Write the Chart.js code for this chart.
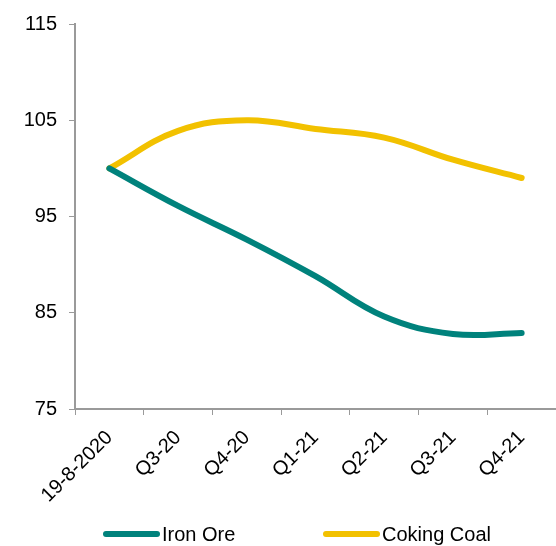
<!DOCTYPE html>
<html>
<head>
<meta charset="utf-8">
<script src="https://cdn.jsdelivr.net/npm/chart.js@4.4.0/dist/chart.umd.min.js"></script>
<style>
  html, body { margin: 0; padding: 0; background: #fff; }
  #wrap { position: relative; width: 556px; height: 546px; }
  #legenda { position: absolute; left: 0; top: 523px; width: 556px; height: 22px;
    font-family: "Liberation Sans", Arial, sans-serif; font-size: 20px; color: #000; }
  .item { position: absolute; top: 0; height: 22px; line-height: 22px; white-space: nowrap; }
  .linha { position: absolute; top: 8px; width: 57px; height: 6px; border-radius: 3px; }
  .texto { position: absolute; top: 0; }
</style>
</head>
<body>
<div id="wrap">
  <canvas id="graficoPrecos"></canvas>
  <div id="legenda"></div>
</div>
<script>
var categorias = ['19-8-2020', 'Q3-20', 'Q4-20', 'Q1-21', 'Q2-21', 'Q3-21', 'Q4-21']
var ironOre = [100, 96.1, 92.6, 88.8, 84.6, 82.8, 82.9]
var cokingCoal = [100, 103.9, 105.0, 104.1, 103.2, 100.9, 99.0]
var yTicks = [75, 85, 95, 105, 115]

var corIron = 'rgb(0, 130, 124)'
var corCoal = 'rgb(242, 193, 0)'
var corEixo = '#9a9a9a'

Chart.defaults.font.family = '"Liberation Sans", Arial, sans-serif'
Chart.defaults.font.size = 20
Chart.defaults.color = '#000'

var ctx = document.getElementById('graficoPrecos')

var grafico = new Chart(ctx, {
  type: 'line',
  data: {
    labels: categorias,
    datasets: [{
      label: 'Iron Ore',
      data: ironOre,
      borderColor: corIron,
      backgroundColor: corIron,
      borderWidth: 6,
      borderCapStyle: 'round',
      pointRadius: 0,
      tension: 0.4
    }, {
      label: 'Coking Coal',
      data: cokingCoal,
      borderColor: corCoal,
      backgroundColor: corCoal,
      borderWidth: 6,
      borderCapStyle: 'round',
      pointRadius: 0,
      tension: 0.4
    }]
  },
  options: {
    responsive: true,
    maintainAspectRatio: false,
    animation: false,
    layout: {
      padding: { top: 22, right: 0, left: 0, bottom: 0 }
    },
    plugins: {
      tooltip: { enabled: false },
      legend: { display: false }
    },
    scales: {
      x: {
        offset: true,
        grid: {
          offset: true,
          drawOnChartArea: false,
          drawTicks: true,
          tickLength: 6,
          color: corEixo
        },
        border: { color: corEixo, width: 2 },
        ticks: {
          maxRotation: 45,
          minRotation: 45,
          padding: 11
        },
        afterFit: function (eixo) { eixo.height = 137 }
      },
      y: {
        min: 75,
        max: 115,
        afterBuildTicks: function (eixo) {
          eixo.ticks = yTicks.map(function (v) { return { value: v } })
        },
        grid: {
          drawOnChartArea: false,
          drawTicks: true,
          tickLength: 6,
          color: corEixo
        },
        border: { color: corEixo, width: 2 },
        ticks: { padding: 12 },
        afterFit: function (eixo) { eixo.width = 75 }
      }
    }
  }
})

// legenda em HTML para acertar o espaçamento
var legenda = document.getElementById('legenda')
var posLegenda = [103, 323]
grafico.data.datasets.forEach(function (ds, i) {
  var item = document.createElement('div')
  item.className = 'item'
  item.style.left = posLegenda[i] + 'px'
  var linha = document.createElement('span')
  linha.className = 'linha'
  linha.style.left = '0px'
  linha.style.background = ds.borderColor
  var texto = document.createElement('span')
  texto.className = 'texto'
  texto.style.left = '59px'
  texto.textContent = ds.label
  item.appendChild(linha)
  item.appendChild(texto)
  legenda.appendChild(item)
})
</script>
</body>
</html>
